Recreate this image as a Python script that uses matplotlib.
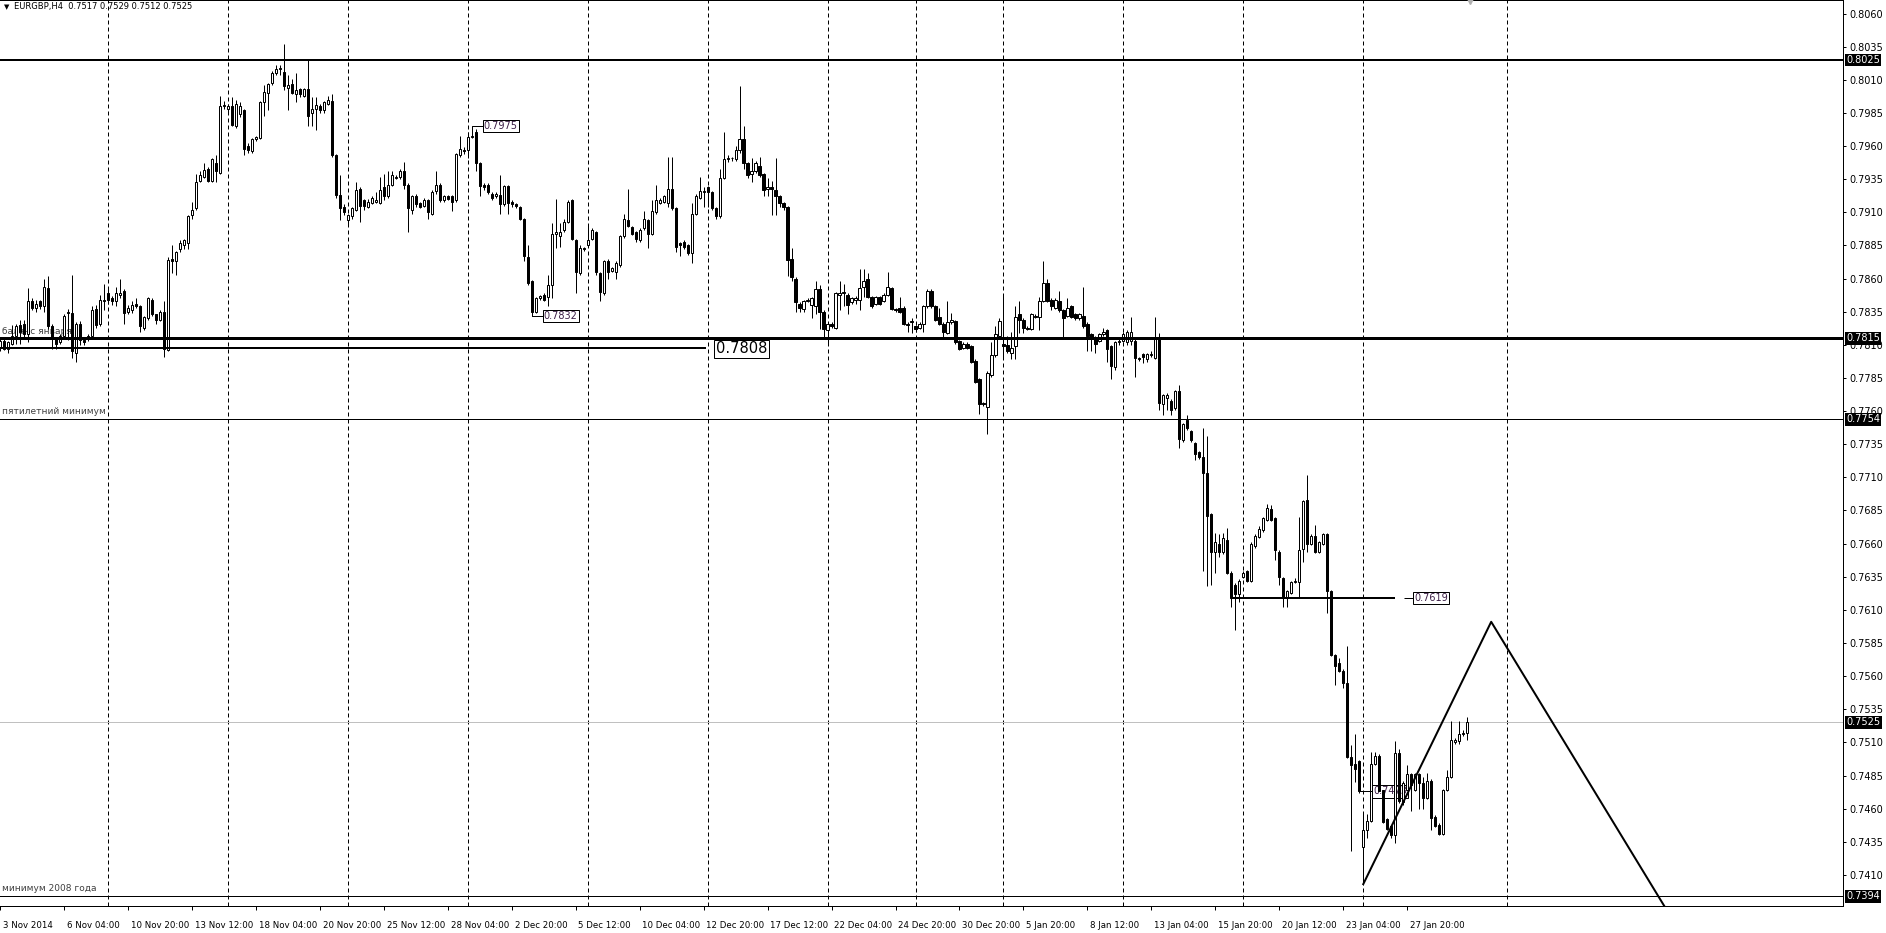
import numpy as np
import matplotlib.pyplot as plt
from matplotlib.transforms import blended_transform_factory

# EURGBP H4, one entry per bar (bar 0 = 3 Nov 2014 12:00)
opens = [
    0.7808, 0.7813, 0.7807, 0.7811, 0.7817, 0.7825, 0.7826, 0.7818, 0.7843, 0.7838,
    0.7843, 0.7839, 0.7853, 0.7824, 0.7815, 0.7812, 0.7817, 0.7834, 0.7834, 0.7804,
    0.7826, 0.7814, 0.7815, 0.7817, 0.7837, 0.7826, 0.7843, 0.7849, 0.7845, 0.7843,
    0.7848, 0.7851, 0.7835, 0.7836, 0.7841, 0.7839, 0.7823, 0.7830, 0.7844, 0.7833,
    0.7829, 0.7835, 0.7806, 0.7875, 0.7873, 0.7882, 0.7885, 0.7887, 0.7908, 0.7913,
    0.7934, 0.7937, 0.7943, 0.7934, 0.7947, 0.7940, 0.7990, 0.7988, 0.7990, 0.7975,
    0.7984, 0.7987, 0.7960, 0.7956, 0.7965, 0.7966, 0.7993, 0.8000, 0.8008, 0.8015,
    0.8018, 0.8016, 0.8004, 0.8007, 0.7999, 0.8003, 0.7998, 0.8003, 0.7985, 0.7988,
    0.7990, 0.7987, 0.7992, 0.7994, 0.7953, 0.7923, 0.7914, 0.7904, 0.7907, 0.7912,
    0.7928, 0.7919, 0.7914, 0.7917, 0.7918, 0.7917, 0.7929, 0.7922, 0.7931, 0.7936,
    0.7937, 0.7941, 0.7931, 0.7912, 0.7922, 0.7917, 0.7915, 0.7919, 0.7909, 0.7926,
    0.7931, 0.7919, 0.7922, 0.7922, 0.7919, 0.7953, 0.7957, 0.7957, 0.7967, 0.7971,
    0.7947, 0.7931, 0.7931, 0.7924, 0.7922, 0.7923, 0.7916, 0.7930, 0.7918, 0.7916,
    0.7914, 0.7905, 0.7876, 0.7858, 0.7835, 0.7845, 0.7848, 0.7846, 0.7855, 0.7894,
    0.7892, 0.7897, 0.7903, 0.7919, 0.7889, 0.7864, 0.7883, 0.7885, 0.7890, 0.7895,
    0.7864, 0.7849, 0.7873, 0.7866, 0.7865, 0.7870, 0.7892, 0.7904, 0.7899, 0.7895,
    0.7889, 0.7898, 0.7904, 0.7894, 0.7910, 0.7917, 0.7918, 0.7917, 0.7928, 0.7913,
    0.7887, 0.7888, 0.7885, 0.7879, 0.7909, 0.7921, 0.7925, 0.7929, 0.7925, 0.7913,
    0.7907, 0.7936, 0.7950, 0.7951, 0.7950, 0.7957, 0.7965, 0.7947, 0.7939, 0.7941,
    0.7945, 0.7939, 0.7928, 0.7929, 0.7927, 0.7922, 0.7917, 0.7914, 0.7875, 0.7860,
    0.7841, 0.7837, 0.7843, 0.7840, 0.7839, 0.7852, 0.7835, 0.7821, 0.7826, 0.7823,
    0.7848, 0.7849, 0.7848, 0.7842, 0.7844, 0.7844, 0.7854, 0.7860, 0.7846, 0.7841,
    0.7846, 0.7843, 0.7848, 0.7853, 0.7837, 0.7838, 0.7838, 0.7826, 0.7827, 0.7824,
    0.7823, 0.7826, 0.7839, 0.7851, 0.7839, 0.7831, 0.7826, 0.7819, 0.7827, 0.7828,
    0.7813, 0.7808, 0.7811, 0.7809, 0.7798, 0.7784, 0.7766, 0.7763, 0.7787, 0.7802,
    0.7817, 0.7811, 0.7810, 0.7804, 0.7809, 0.7833, 0.7829, 0.7823, 0.7822, 0.7832,
    0.7831, 0.7843, 0.7857, 0.7844, 0.7838, 0.7843, 0.7836, 0.7832, 0.7839, 0.7833,
    0.7830, 0.7832, 0.7826, 0.7818, 0.7816, 0.7813, 0.7818, 0.7821, 0.7809, 0.7793,
    0.7812, 0.7813, 0.7812, 0.7813, 0.7813, 0.7800, 0.7803, 0.7799, 0.7802, 0.7800,
    0.7816, 0.7765, 0.7770, 0.7768, 0.7762, 0.7775, 0.7738, 0.7753, 0.7745, 0.7736,
    0.7729, 0.7725, 0.7713, 0.7682, 0.7654, 0.7660, 0.7654, 0.7663, 0.7638, 0.7629,
    0.7622, 0.7635, 0.7639, 0.7632, 0.7658, 0.7665, 0.7670, 0.7678, 0.7686, 0.7679,
    0.7654, 0.7634, 0.7620, 0.7623, 0.7631, 0.7631, 0.7656, 0.7693, 0.7660, 0.7666,
    0.7654, 0.7660, 0.7667, 0.7624, 0.7576, 0.7570, 0.7564, 0.7555, 0.7499, 0.7494,
    0.7496, 0.7431, 0.7444, 0.7451, 0.7494, 0.7500, 0.7474, 0.7452, 0.7447, 0.7440,
    0.7502, 0.7465, 0.7474, 0.7486, 0.7474, 0.7486, 0.7479, 0.7468, 0.7481, 0.7454,
    0.7448, 0.7441, 0.7474, 0.7484, 0.7510, 0.7511, 0.7516, 0.7517,
]
highs = [
    0.7815, 0.7815, 0.7813, 0.7825, 0.7826, 0.7829, 0.7829, 0.7853, 0.7845, 0.7844,
    0.7844, 0.7860, 0.7862, 0.7826, 0.7816, 0.7818, 0.7833, 0.7837, 0.7863, 0.7827,
    0.7828, 0.7816, 0.7818, 0.7839, 0.7840, 0.7848, 0.7856, 0.7852, 0.7847, 0.7854,
    0.7860, 0.7852, 0.7840, 0.7843, 0.7845, 0.7840, 0.7832, 0.7846, 0.7845, 0.7833,
    0.7836, 0.7843, 0.7876, 0.7885, 0.7881, 0.7889, 0.7890, 0.7908, 0.7918, 0.7939,
    0.7941, 0.7947, 0.7944, 0.7951, 0.7953, 0.7998, 0.7994, 0.7992, 0.7997, 0.7995,
    0.7993, 0.7988, 0.7962, 0.7966, 0.7968, 0.7994, 0.8006, 0.8008, 0.8017, 0.8021,
    0.8021, 0.8037, 0.8014, 0.8011, 0.8015, 0.8004, 0.8004, 0.8025, 0.7997, 0.7997,
    0.7992, 0.7994, 0.7998, 0.7999, 0.7954, 0.7938, 0.7916, 0.7909, 0.7914, 0.7933,
    0.7929, 0.7920, 0.7920, 0.7922, 0.7925, 0.7937, 0.7939, 0.7941, 0.7941, 0.7938,
    0.7943, 0.7948, 0.7932, 0.7923, 0.7924, 0.7918, 0.7921, 0.7920, 0.7927, 0.7941,
    0.7932, 0.7923, 0.7923, 0.7923, 0.7955, 0.7968, 0.7959, 0.7971, 0.7970, 0.7973,
    0.7948, 0.7932, 0.7932, 0.7925, 0.7925, 0.7938, 0.7931, 0.7931, 0.7919, 0.7917,
    0.7915, 0.7906, 0.7885, 0.7859, 0.7846, 0.7848, 0.7849, 0.7863, 0.7902, 0.7920,
    0.7902, 0.7905, 0.7919, 0.7920, 0.7890, 0.7885, 0.7884, 0.7901, 0.7898, 0.7896,
    0.7865, 0.7874, 0.7875, 0.7869, 0.7873, 0.7893, 0.7909, 0.7928, 0.7900, 0.7896,
    0.7898, 0.7911, 0.7905, 0.7919, 0.7931, 0.7921, 0.7923, 0.7952, 0.7952, 0.7914,
    0.7888, 0.7889, 0.7886, 0.7917, 0.7924, 0.7937, 0.7929, 0.7930, 0.7926, 0.7914,
    0.7943, 0.7971, 0.7953, 0.7952, 0.7960, 0.8005, 0.7975, 0.7948, 0.7951, 0.7949,
    0.7952, 0.7940, 0.7936, 0.7934, 0.7951, 0.7923, 0.7918, 0.7915, 0.7883, 0.7861,
    0.7842, 0.7844, 0.7845, 0.7846, 0.7858, 0.7855, 0.7836, 0.7827, 0.7827, 0.7850,
    0.7858, 0.7856, 0.7849, 0.7846, 0.7847, 0.7867, 0.7867, 0.7864, 0.7847, 0.7847,
    0.7847, 0.7849, 0.7865, 0.7854, 0.7838, 0.7846, 0.7839, 0.7827, 0.7830, 0.7825,
    0.7827, 0.7840, 0.7852, 0.7852, 0.7840, 0.7838, 0.7827, 0.7843, 0.7834, 0.7829,
    0.7814, 0.7812, 0.7812, 0.7810, 0.7799, 0.7785, 0.7767, 0.7790, 0.7812, 0.7824,
    0.7830, 0.7848, 0.7817, 0.7820, 0.7839, 0.7843, 0.7830, 0.7824, 0.7834, 0.7833,
    0.7846, 0.7873, 0.7860, 0.7845, 0.7845, 0.7851, 0.7837, 0.7845, 0.7840, 0.7834,
    0.7834, 0.7854, 0.7827, 0.7819, 0.7817, 0.7819, 0.7823, 0.7822, 0.7810, 0.7813,
    0.7815, 0.7820, 0.7821, 0.7831, 0.7815, 0.7801, 0.7804, 0.7804, 0.7805, 0.7831,
    0.7819, 0.7773, 0.7774, 0.7769, 0.7776, 0.7780, 0.7751, 0.7757, 0.7746, 0.7737,
    0.7730, 0.7747, 0.7741, 0.7683, 0.7668, 0.7667, 0.7668, 0.7672, 0.7639, 0.7630,
    0.7633, 0.7639, 0.7640, 0.7661, 0.7667, 0.7673, 0.7680, 0.7690, 0.7689, 0.7680,
    0.7655, 0.7635, 0.7625, 0.7632, 0.7634, 0.7680, 0.7693, 0.7712, 0.7667, 0.7674,
    0.7662, 0.7668, 0.7668, 0.7625, 0.7577, 0.7574, 0.7565, 0.7583, 0.7508, 0.7516,
    0.7497, 0.7457, 0.7456, 0.7503, 0.7503, 0.7501, 0.7475, 0.7453, 0.7448, 0.7511,
    0.7505, 0.7481, 0.7493, 0.7487, 0.7487, 0.7487, 0.7484, 0.7487, 0.7482, 0.7455,
    0.7449, 0.7475, 0.7489, 0.7526, 0.7513, 0.7526, 0.7519, 0.7529,
]
lows = [
    0.7805, 0.7806, 0.7804, 0.7810, 0.7811, 0.7811, 0.7816, 0.7812, 0.7836, 0.7835,
    0.7837, 0.7835, 0.7822, 0.7807, 0.7807, 0.7811, 0.7815, 0.7814, 0.7800, 0.7797,
    0.7810, 0.7810, 0.7813, 0.7815, 0.7823, 0.7824, 0.7836, 0.7841, 0.7840, 0.7839,
    0.7845, 0.7826, 0.7833, 0.7834, 0.7838, 0.7820, 0.7821, 0.7829, 0.7832, 0.7826,
    0.7828, 0.7801, 0.7805, 0.7864, 0.7863, 0.7880, 0.7882, 0.7882, 0.7905, 0.7912,
    0.7933, 0.7936, 0.7933, 0.7933, 0.7933, 0.7939, 0.7988, 0.7986, 0.7975, 0.7974,
    0.7982, 0.7953, 0.7955, 0.7955, 0.7964, 0.7965, 0.7983, 0.7987, 0.8006, 0.8014,
    0.8014, 0.8002, 0.7987, 0.7999, 0.7993, 0.7997, 0.7997, 0.7975, 0.7975, 0.7972,
    0.7985, 0.7985, 0.7991, 0.7952, 0.7921, 0.7904, 0.7908, 0.7900, 0.7905, 0.7911,
    0.7903, 0.7912, 0.7913, 0.7916, 0.7917, 0.7916, 0.7919, 0.7921, 0.7930, 0.7935,
    0.7935, 0.7928, 0.7895, 0.7909, 0.7914, 0.7913, 0.7914, 0.7905, 0.7908, 0.7924,
    0.7918, 0.7918, 0.7919, 0.7911, 0.7918, 0.7952, 0.7954, 0.7951, 0.7966, 0.7941,
    0.7922, 0.7927, 0.7924, 0.7919, 0.7921, 0.7909, 0.7915, 0.7909, 0.7914, 0.7913,
    0.7904, 0.7873, 0.7855, 0.7832, 0.7834, 0.7844, 0.7843, 0.7839, 0.7845, 0.7883,
    0.7884, 0.7895, 0.7902, 0.7889, 0.7849, 0.7863, 0.7881, 0.7884, 0.7889, 0.7863,
    0.7843, 0.7848, 0.7860, 0.7865, 0.7860, 0.7869, 0.7891, 0.7899, 0.7893, 0.7888,
    0.7888, 0.7897, 0.7883, 0.7893, 0.7909, 0.7916, 0.7917, 0.7914, 0.7912, 0.7880,
    0.7877, 0.7882, 0.7878, 0.7872, 0.7908, 0.7920, 0.7914, 0.7914, 0.7912, 0.7905,
    0.7906, 0.7935, 0.7948, 0.7949, 0.7949, 0.7955, 0.7943, 0.7936, 0.7933, 0.7940,
    0.7937, 0.7922, 0.7922, 0.7908, 0.7908, 0.7914, 0.7912, 0.7862, 0.7858, 0.7835,
    0.7835, 0.7835, 0.7842, 0.7830, 0.7833, 0.7822, 0.7815, 0.7811, 0.7823, 0.7822,
    0.7836, 0.7839, 0.7833, 0.7841, 0.7841, 0.7836, 0.7846, 0.7845, 0.7838, 0.7840,
    0.7840, 0.7842, 0.7847, 0.7836, 0.7835, 0.7834, 0.7825, 0.7820, 0.7819, 0.7820,
    0.7822, 0.7820, 0.7838, 0.7838, 0.7828, 0.7825, 0.7816, 0.7818, 0.7826, 0.7811,
    0.7806, 0.7807, 0.7807, 0.7796, 0.7781, 0.7758, 0.7764, 0.7743, 0.7786, 0.7801,
    0.7816, 0.7801, 0.7804, 0.7799, 0.7799, 0.7819, 0.7819, 0.7821, 0.7821, 0.7830,
    0.7821, 0.7842, 0.7842, 0.7836, 0.7837, 0.7835, 0.7815, 0.7831, 0.7830, 0.7829,
    0.7829, 0.7823, 0.7805, 0.7805, 0.7804, 0.7812, 0.7817, 0.7797, 0.7784, 0.7791,
    0.7810, 0.7812, 0.7810, 0.7810, 0.7786, 0.7798, 0.7796, 0.7797, 0.7801, 0.7799,
    0.7761, 0.7757, 0.7761, 0.7757, 0.7761, 0.7732, 0.7737, 0.7746, 0.7737, 0.7723,
    0.7724, 0.7639, 0.7628, 0.7629, 0.7638, 0.7650, 0.7652, 0.7637, 0.7612, 0.7595,
    0.7616, 0.7634, 0.7631, 0.7631, 0.7657, 0.7664, 0.7669, 0.7677, 0.7677, 0.7648,
    0.7629, 0.7612, 0.7612, 0.7622, 0.7630, 0.7619, 0.7646, 0.7654, 0.7659, 0.7653,
    0.7653, 0.7659, 0.7608, 0.7575, 0.7553, 0.7563, 0.7551, 0.7498, 0.7428, 0.7480,
    0.7472, 0.7403, 0.7438, 0.7450, 0.7493, 0.7471, 0.7449, 0.7444, 0.7438, 0.7434,
    0.7464, 0.7463, 0.7473, 0.7458, 0.7473, 0.7460, 0.7460, 0.7467, 0.7444, 0.7446,
    0.7440, 0.7440, 0.7473, 0.7483, 0.7509, 0.7509, 0.7515, 0.7512,
]
closes = [
    0.7813, 0.7807, 0.7812, 0.7817, 0.7824, 0.7820, 0.7818, 0.7843, 0.7838, 0.7841,
    0.7839, 0.7854, 0.7824, 0.7815, 0.7811, 0.7817, 0.7832, 0.7835, 0.7805, 0.7826,
    0.7814, 0.7812, 0.7817, 0.7836, 0.7825, 0.7844, 0.7844, 0.7844, 0.7843, 0.7849,
    0.7849, 0.7834, 0.7838, 0.7840, 0.7839, 0.7824, 0.7831, 0.7845, 0.7833, 0.7829,
    0.7835, 0.7807, 0.7874, 0.7873, 0.7880, 0.7887, 0.7889, 0.7907, 0.7912, 0.7933,
    0.7938, 0.7942, 0.7934, 0.7950, 0.7941, 0.7990, 0.7991, 0.7990, 0.7976, 0.7992,
    0.7990, 0.7958, 0.7957, 0.7965, 0.7967, 0.7993, 0.8001, 0.8007, 0.8015, 0.8018,
    0.8019, 0.8005, 0.8006, 0.8000, 0.8002, 0.7999, 0.8003, 0.7983, 0.7988, 0.7991,
    0.7987, 0.7993, 0.7995, 0.7953, 0.7923, 0.7913, 0.7910, 0.7908, 0.7913, 0.7927,
    0.7915, 0.7915, 0.7918, 0.7921, 0.7919, 0.7927, 0.7922, 0.7931, 0.7938, 0.7937,
    0.7941, 0.7931, 0.7913, 0.7922, 0.7916, 0.7914, 0.7919, 0.7910, 0.7925, 0.7931,
    0.7919, 0.7922, 0.7920, 0.7918, 0.7954, 0.7958, 0.7956, 0.7967, 0.7968, 0.7947,
    0.7930, 0.7929, 0.7925, 0.7921, 0.7924, 0.7916, 0.7930, 0.7917, 0.7916, 0.7915,
    0.7905, 0.7877, 0.7857, 0.7835, 0.7845, 0.7847, 0.7844, 0.7855, 0.7894, 0.7895,
    0.7895, 0.7903, 0.7918, 0.7890, 0.7865, 0.7883, 0.7882, 0.7889, 0.7897, 0.7865,
    0.7850, 0.7873, 0.7865, 0.7868, 0.7872, 0.7892, 0.7905, 0.7900, 0.7894, 0.7890,
    0.7897, 0.7905, 0.7894, 0.7911, 0.7919, 0.7919, 0.7922, 0.7928, 0.7913, 0.7884,
    0.7885, 0.7884, 0.7879, 0.7909, 0.7922, 0.7926, 0.7926, 0.7925, 0.7913, 0.7907,
    0.7936, 0.7950, 0.7951, 0.7951, 0.7957, 0.7965, 0.7947, 0.7938, 0.7941, 0.7947,
    0.7938, 0.7927, 0.7929, 0.7928, 0.7922, 0.7917, 0.7914, 0.7874, 0.7861, 0.7842,
    0.7838, 0.7843, 0.7844, 0.7845, 0.7852, 0.7835, 0.7822, 0.7826, 0.7824, 0.7849,
    0.7849, 0.7850, 0.7840, 0.7845, 0.7845, 0.7853, 0.7858, 0.7846, 0.7839, 0.7846,
    0.7841, 0.7848, 0.7854, 0.7837, 0.7836, 0.7835, 0.7826, 0.7825, 0.7828, 0.7822,
    0.7826, 0.7839, 0.7851, 0.7839, 0.7829, 0.7826, 0.7820, 0.7827, 0.7829, 0.7812,
    0.7807, 0.7811, 0.7808, 0.7797, 0.7782, 0.7765, 0.7765, 0.7789, 0.7802, 0.7818,
    0.7828, 0.7809, 0.7805, 0.7808, 0.7831, 0.7829, 0.7823, 0.7822, 0.7833, 0.7831,
    0.7843, 0.7857, 0.7843, 0.7839, 0.7844, 0.7836, 0.7830, 0.7838, 0.7831, 0.7830,
    0.7833, 0.7824, 0.7817, 0.7816, 0.7811, 0.7818, 0.7820, 0.7807, 0.7794, 0.7812,
    0.7813, 0.7818, 0.7820, 0.7820, 0.7800, 0.7799, 0.7801, 0.7803, 0.7803, 0.7816,
    0.7766, 0.7772, 0.7772, 0.7761, 0.7775, 0.7739, 0.7750, 0.7747, 0.7738, 0.7728,
    0.7725, 0.7713, 0.7681, 0.7654, 0.7661, 0.7654, 0.7664, 0.7638, 0.7619, 0.7622,
    0.7632, 0.7638, 0.7632, 0.7660, 0.7666, 0.7671, 0.7679, 0.7687, 0.7678, 0.7655,
    0.7635, 0.7620, 0.7624, 0.7631, 0.7632, 0.7655, 0.7692, 0.7660, 0.7666, 0.7654,
    0.7661, 0.7667, 0.7624, 0.7576, 0.7568, 0.7564, 0.7555, 0.7499, 0.7493, 0.7490,
    0.7473, 0.7444, 0.7451, 0.7494, 0.7500, 0.7473, 0.7450, 0.7445, 0.7440, 0.7502,
    0.7466, 0.7479, 0.7486, 0.7478, 0.7486, 0.7479, 0.7468, 0.7481, 0.7453, 0.7447,
    0.7441, 0.7474, 0.7484, 0.7512, 0.7512, 0.7516, 0.7517, 0.7525,
]

time_labels = ['3 Nov 2014', '6 Nov 04:00', '10 Nov 20:00', '13 Nov 12:00', '18 Nov 04:00',
               '20 Nov 20:00', '25 Nov 12:00', '28 Nov 04:00', '2 Dec 20:00', '5 Dec 12:00',
               '10 Dec 04:00', '12 Dec 20:00', '17 Dec 12:00', '22 Dec 04:00', '24 Dec 20:00',
               '30 Dec 20:00', '5 Jan 20:00', '8 Jan 12:00', '13 Jan 04:00', '15 Jan 20:00',
               '20 Jan 12:00', '23 Jan 04:00', '27 Jan 20:00']
label_bars = [0, 16, 32, 48, 64, 80, 96, 112, 128, 144, 160, 176, 192, 208, 224,
              240, 256, 272, 288, 304, 320, 336, 352]
week_bars = [27, 57, 87, 117, 147, 177, 207, 229, 251, 281, 311, 341, 377]
price_ticks = [0.8060, 0.8035, 0.8010, 0.7985, 0.7960, 0.7935, 0.7910, 0.7885, 0.7860,
               0.7835, 0.7810, 0.7785, 0.7760, 0.7735, 0.7710, 0.7685, 0.7660, 0.7635,
               0.7610, 0.7585, 0.7560, 0.7535, 0.7510, 0.7485, 0.7460, 0.7435, 0.7410]
marked_levels = [0.8025, 0.7815, 0.7754, 0.7525, 0.7394]

# future zigzag drawn by hand on the chart
zig_bars = [341, 373, 417]
zig_prices = [0.7403, 0.7601, 0.7383]

W, H = 1886, 933
PX = 0.72  # one pixel in points at dpi 100

fig = plt.figure(figsize=(W / 100, H / 100), dpi=100)
ax = fig.add_axes([0, 27 / H, 1843 / W, 906 / H])
ax.set_xlim(0.25, 461.0)
ax.set_ylim(0.738651, 0.807028)

o = np.array(opens)
h = np.array(highs)
l = np.array(lows)
c = np.array(closes)
x = np.arange(len(c))
up = c >= o
bottom = np.minimum(o, c)
height = np.abs(c - o)

# weekly grid
for b in week_bars:
    ax.axvline(b, color='black', lw=PX, ls=(0, (4, 3)), zorder=1)

# candles
ax.vlines(x, l, h, color='black', lw=PX, zorder=3)
ax.bar(x[up], height[up], bottom=bottom[up], width=0.55, color='white',
       edgecolor='black', linewidth=PX, zorder=4)
ax.bar(x[~up], height[~up], bottom=bottom[~up], width=0.55, color='black',
       edgecolor='black', linewidth=PX, zorder=4)

# horizontal levels
ax.axhline(0.8025, color='black', lw=2 * PX, zorder=5)
ax.axhline(0.7815, color='black', lw=3 * PX, zorder=5)
ax.axhline(0.7754, color='black', lw=PX, zorder=5)
ax.axhline(0.7394, color='black', lw=PX, zorder=5)
ax.axhline(0.7525, color='#c0c0c0', lw=PX, zorder=2)
ax.hlines(0.7808, -5, 176.5, color='black', lw=2 * PX, zorder=5)
ax.hlines(0.7619, 308, 349, color='black', lw=2 * PX, zorder=5)
ax.hlines(0.7619, 351.3, 353.5, color='black', lw=PX, zorder=5)

# zigzag
ax.plot(zig_bars, zig_prices, color='black', lw=2 * PX, zorder=6)

# chart shift marker at the top
ax.plot([367.75], [0.80695], marker='v', ms=5, color='#b0b0b0', clip_on=False, zorder=6)

box_kw = dict(boxstyle='square,pad=0.12', fc='white', ec='black', lw=PX)
lbl_col = '#3c1e46'
ax.text(179.0, 0.7807, '0.7808', fontsize=10.5, color='black', ha='left', va='center',
        bbox=box_kw, zorder=7)
ax.text(353.8, 0.7619, '0.7619', fontsize=7, color=lbl_col, ha='left', va='center',
        bbox=box_kw, zorder=7)
# price labels with connectors
ax.plot([118, 118, 120.7], [highs[118], 0.7975, 0.7975], color='black', lw=PX, zorder=6)
ax.text(121.0, 0.7975, '0.7975', fontsize=7, color=lbl_col, ha='left', va='center',
        bbox=box_kw, zorder=7)
ax.plot([133, 133, 135.7], [lows[133], 0.7832, 0.7832], color='black', lw=PX, zorder=6)
ax.text(136.0, 0.7832, '0.7832', fontsize=7, color=lbl_col, ha='left', va='center',
        bbox=box_kw, zorder=7)
ax.plot([340, 343.2], [0.7473, 0.7473], color='black', lw=PX, zorder=6)
ax.text(343.5, 0.7473, '0.7473', fontsize=7, color=lbl_col, ha='left', va='center',
        bbox=box_kw, zorder=3.5)

# comments on levels
ax.text(0.6, 0.7817, 'баланс января', fontsize=6.5, color='#404040', ha='left', va='bottom', zorder=2)
ax.text(0.6, 0.7756, 'пятилетний минимум', fontsize=6.5, color='#404040', ha='left', va='bottom', zorder=2)
ax.text(0.6, 0.7396, 'минимум 2008 года', fontsize=6.5, color='#404040', ha='left', va='bottom', zorder=2)

# axes frame
ax.spines['left'].set_visible(False)
for side in ['right', 'bottom', 'top']:
    ax.spines[side].set_linewidth(PX)

ax.yaxis.tick_right()
ax.set_yticks(price_ticks)
ax.set_yticklabels(['%.4f' % p for p in price_ticks])
ax.tick_params(axis='y', direction='out', length=3 * PX, width=PX, pad=2.5,
               labelsize=7, labelcolor='black')
ytr = blended_transform_factory(ax.transAxes, ax.transData)
ax.text(1 + 4 / 1843, 0.7394, '0.7385', transform=ytr, fontsize=7, ha='left',
        va='center', clip_on=False)
for p in marked_levels:
    ax.text(1 + 3 / 1843, p, '%.4f' % p, transform=ytr, fontsize=7, color='white',
            ha='left', va='center', clip_on=False, zorder=10,
            bbox=dict(boxstyle='square,pad=0.15', fc='black', ec='black', lw=0))

ax.set_xticks(label_bars)
ax.set_xticklabels([])
ax.tick_params(axis='x', direction='out', length=4 * PX, width=PX)
xtr = blended_transform_factory(ax.transData, ax.transAxes)
for b, s in zip(label_bars, time_labels):
    ax.text(b + 0.7, -0.021, s, transform=xtr, fontsize=6.2, ha='left', va='center',
            clip_on=False)

# header
fig.text(4 / W, 1 - 7 / H, '▼', fontsize=5, ha='left', va='center')
fig.text(14 / W, 1 - 7 / H, 'EURGBP,H4  0.7517 0.7529 0.7512 0.7525', fontsize=6,
         ha='left', va='center')

fig.savefig('out.png', dpi=100)
